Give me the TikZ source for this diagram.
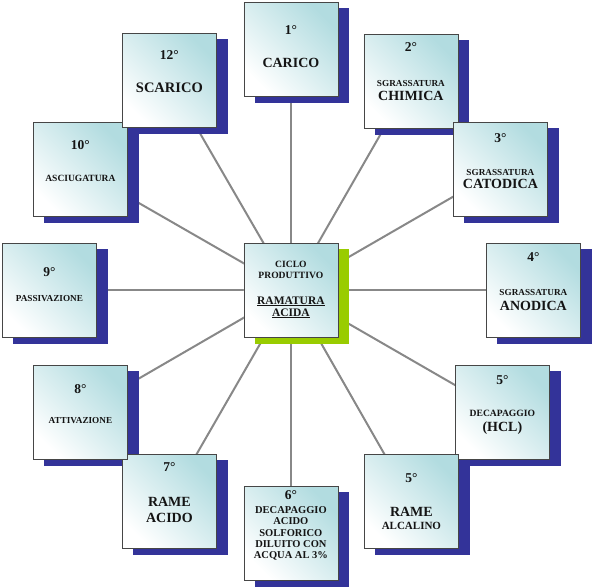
\documentclass[tikz,border=0pt]{standalone}
\usepackage{fontspec}
\setmainfont{Liberation Serif}
\usetikzlibrary{backgrounds}
\definecolor{shblue}{RGB}{51,51,153}
\definecolor{shgreen}{RGB}{153,204,0}
\definecolor{boxteal}{RGB}{178,220,224}
\definecolor{edgegray}{RGB}{70,70,70}
\definecolor{conngray}{RGB}{136,136,136}
\definecolor{txtcol}{RGB}{20,20,20}
\begin{document}
\begin{tikzpicture}[x=1pt,y=-1pt,
  stepbox/.style={draw=edgegray, line width=0.8pt, minimum width=94pt, minimum height=94pt,
    inner sep=0pt, anchor=north west, top color=boxteal, bottom color=white, shading angle=-45},
  conn/.style={draw=conngray, line width=2pt},
  blueshadow/.style={fill=shblue},
  greenshadow/.style={fill=shgreen},
  txt/.style={inner sep=0pt, text=txtcol, font=\bfseries\fontsize{14}{16}\selectfont},
  degtxt/.style={txt, font=\bfseries\fontsize{13.5}{16}\selectfont},
  smalltxt/.style={txt, font=\bfseries\fontsize{9.2}{11}\selectfont},
  midtxt/.style={txt, font=\bfseries\fontsize{10.5}{12}\selectfont}
]
\useasboundingbox (0,0) rectangle (592,587);

% boxes
\node[stepbox] (c)   at (243.5,243) {};
\node[stepbox] (b1)  at (243.5,2) {};
\node[stepbox] (b2)  at (363.5,34) {};
\node[stepbox] (b3)  at (453,122) {};
\node[stepbox] (b4)  at (486,243) {};
\node[stepbox] (b5)  at (455,365) {};
\node[stepbox] (b5b) at (364,454) {};
\node[stepbox] (b6)  at (243.5,486) {};
\node[stepbox] (b7)  at (122,454) {};
\node[stepbox] (b8)  at (33,365) {};
\node[stepbox] (b9)  at (2,243) {};
\node[stepbox] (b10) at (33,122) {};
\node[stepbox] (b12) at (122,33) {};

\begin{pgfonlayer}{background}
  \foreach \b in {b1,b2,b3,b4,b5,b5b,b6,b7,b8,b9,b10,b12}
    \draw[conn] (c.center) -- (\b.center);
  \foreach \b in {b1,b2,b3,b4,b5,b5b,b6,b7,b8,b9,b10,b12}
    \fill[blueshadow] ([xshift=11pt,yshift=-6pt]\b.south west) rectangle ([xshift=11pt,yshift=-6pt]\b.north east);
  \fill[greenshadow] ([xshift=11pt,yshift=-6pt]c.south west) rectangle ([xshift=11pt,yshift=-6pt]c.north east);
\end{pgfonlayer}

% center
\node[smalltxt, font=\bfseries\fontsize{9.6}{11}\selectfont] (c1) at ([yshift=-21pt]c.north) {CICLO};
\node[smalltxt, font=\bfseries\fontsize{9.6}{11}\selectfont] (c2) at ([yshift=-32pt]c.north) {PRODUTTIVO};
\node[txt, font=\bfseries\fontsize{11.5}{13}\selectfont, anchor=base] (c3) at ([yshift=-61pt]c.north) {\underline{RAMATURA}};
\node[txt, font=\bfseries\fontsize{11.5}{13}\selectfont, anchor=base] (c4) at ([yshift=-73pt]c.north) {\underline{ACIDA}};

% 1
\node[degtxt] (t1a) at ([yshift=-28pt]b1.north) {1°};
\node[txt] (t1b) at ([yshift=-61pt]b1.north) {CARICO};
% 2
\node[degtxt] (t2a) at ([yshift=-13pt]b2.north) {2°};
\node[smalltxt] (t2b) at ([yshift=-49pt]b2.north) {SGRASSATURA};
\node[txt] (t2c) at ([yshift=-62pt]b2.north) {CHIMICA};
% 3
\node[degtxt] (t3a) at ([yshift=-16pt]b3.north) {3°};
\node[smalltxt] (t3b) at ([yshift=-50pt]b3.north) {SGRASSATURA};
\node[txt] (t3c) at ([yshift=-62pt]b3.north) {CATODICA};
% 4
\node[degtxt] (t4a) at ([yshift=-14pt]b4.north) {4°};
\node[smalltxt] (t4b) at ([yshift=-49pt]b4.north) {SGRASSATURA};
\node[txt] (t4c) at ([yshift=-63pt]b4.north) {ANODICA};
% 5 HCL
\node[degtxt] (t5a) at ([yshift=-15pt]b5.north) {5°};
\node[smalltxt, font=\bfseries\fontsize{9.6}{11}\selectfont] (t5b) at ([yshift=-48pt]b5.north) {DECAPAGGIO};
\node[txt] (t5c) at ([yshift=-63pt]b5.north) {(HCL)};
% 5 rame alcalino
\node[degtxt] (t5d) at ([yshift=-24pt]b5b.north) {5°};
\node[txt] (t5e) at ([yshift=-58pt]b5b.north) {RAME};
\node[txt, font=\bfseries\fontsize{11}{13}\selectfont] (t5f) at ([yshift=-72pt]b5b.north) {ALCALINO};
% 6
\node[degtxt] (t6a) at ([yshift=-9pt]b6.north) {6°};
\node[midtxt] (t6b) at ([yshift=-24pt]b6.north) {DECAPAGGIO};
\node[midtxt] (t6c) at ([yshift=-35.5pt]b6.north) {ACIDO};
\node[midtxt] (t6d) at ([yshift=-47pt]b6.north) {SOLFORICO};
\node[midtxt] (t6e) at ([yshift=-58pt]b6.north) {DILUITO CON};
\node[midtxt] (t6f) at ([yshift=-69.5pt]b6.north) {ACQUA AL 3\%};
% 7
\node[degtxt] (t7a) at ([yshift=-13pt]b7.north) {7°};
\node[txt] (t7b) at ([yshift=-48pt]b7.north) {RAME};
\node[txt] (t7c) at ([yshift=-64pt]b7.north) {ACIDO};
% 8
\node[degtxt] (t8a) at ([yshift=-24pt]b8.north) {8°};
\node[smalltxt] (t8b) at ([yshift=-56pt]b8.north) {ATTIVAZIONE};
% 9
\node[degtxt] (t9a) at ([yshift=-29pt]b9.north) {9°};
\node[smalltxt] (t9b) at ([yshift=-56pt]b9.north) {PASSIVAZIONE};
% 10
\node[degtxt] (t10a) at ([yshift=-23pt]b10.north) {10°};
\node[smalltxt, font=\bfseries\fontsize{9.5}{11}\selectfont] (t10b) at ([yshift=-56pt]b10.north) {ASCIUGATURA};
% 12
\node[degtxt] (t12a) at ([yshift=-22pt]b12.north) {12°};
\node[txt, font=\bfseries\fontsize{14.5}{16}\selectfont] (t12b) at ([yshift=-55pt]b12.north) {SCARICO};
\end{tikzpicture}
\end{document}
